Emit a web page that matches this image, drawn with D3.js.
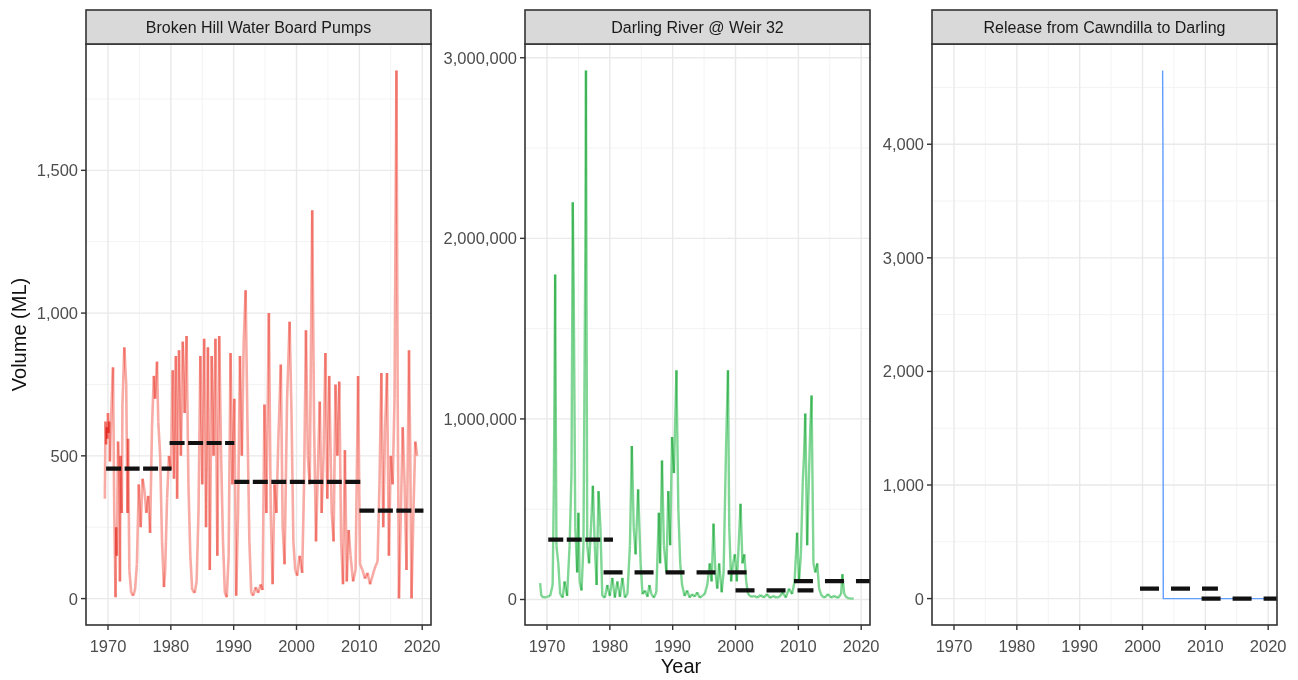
<!DOCTYPE html>
<html><head><meta charset="utf-8">
<script src="https://cdn.jsdelivr.net/npm/d3@7"></script>
<style>
body{margin:0;background:#fff}
svg{display:block}
text{font-family:"Liberation Sans",Arial,Helvetica,sans-serif}
</style>
</head><body>
<svg id="chart" width="1298" height="680"></svg>
<script>
// ---------------- data ----------------
const panelTitles = ["Broken Hill Water Board Pumps", "Darling River @ Weir 32", "Release from Cawndilla to Darling"];
const xTicks = [1970, 1980, 1990, 2000, 2010, 2020];
const xDomain = [1966.5, 2021.4];
const pumpsYTicks = [0, 500, 1000, 1500];
const weirYTicks = [0, 1000000, 2000000, 3000000];
const releaseYTicks = [0, 1000, 2000, 3000, 4000];

// [year, volume ML]
const pumpsSeries = [
 [1969.5,350],[1969.6,620],[1969.7,540],[1969.8,600],[1969.9,560],[1970.0,650],[1970.1,580],[1970.2,620],[1970.3,480],[1970.4,560],[1970.6,700],[1970.8,810],
 [1971.0,300],[1971.2,5],[1971.3,250],[1971.4,150],[1971.6,550],[1971.8,420],[1971.9,60],[1972.0,500],[1972.2,300],[1972.3,680],[1972.6,880],
 [1972.9,750],[1973.1,300],[1973.2,560],[1973.4,100],[1973.7,20],[1974.0,10],[1974.3,30],[1974.6,120],[1974.9,400],
 [1975.2,250],[1975.5,420],[1975.8,380],[1976.1,300],[1976.4,360],[1976.7,230],[1977.0,600],[1977.3,780],
 [1977.5,700],[1977.8,830],[1978.0,620],[1978.3,500],[1978.6,200],[1978.9,40],[1979.1,100],[1979.4,350],
 [1979.7,500],[1980.0,450],[1980.3,800],[1980.5,420],[1980.8,850],[1981.0,350],[1981.3,870],[1981.6,500],
 [1981.9,900],[1982.2,650],[1982.5,920],[1982.8,400],[1983.1,150],[1983.4,30],[1983.8,20],[1984.1,60],
 [1984.4,300],[1984.7,850],[1985.0,400],[1985.3,910],[1985.6,250],[1985.9,880],[1986.2,100],[1986.5,850],
 [1986.8,500],[1987.1,910],[1987.4,150],[1987.7,920],[1988.0,500],[1988.3,200],[1988.6,20],[1988.9,5],
 [1989.2,150],[1989.5,860],[1989.8,400],[1990.1,700],[1990.4,10],[1990.7,300],[1991.0,850],[1991.3,500],
 [1991.6,900],[1991.9,1080],[1992.2,600],[1992.5,200],[1992.8,20],[1993.1,10],[1993.5,40],[1993.9,20],
 [1994.3,50],[1994.6,30],[1994.9,680],[1995.2,300],[1995.6,1000],[1995.9,300],[1996.2,50],[1996.5,400],
 [1996.8,300],[1997.1,550],[1997.5,820],[1997.8,250],[1998.1,120],[1998.5,700],[1998.9,970],[1999.2,650],
 [1999.5,200],[1999.8,100],[2000.1,80],[2000.5,150],[2000.9,90],[2001.2,400],[2001.5,940],[2001.8,500],
 [2002.1,400],[2002.5,1360],[2002.8,600],[2003.1,200],[2003.4,450],[2003.7,690],[2004.0,300],[2004.3,500],
 [2004.6,860],[2004.9,350],[2005.2,780],[2005.6,300],[2005.9,200],[2006.2,750],[2006.5,500],[2006.8,760],
 [2007.1,200],[2007.4,50],[2007.7,520],[2008.0,60],[2008.3,240],[2008.6,150],[2009.0,60],[2009.4,100],
 [2009.8,780],[2010.1,120],[2010.5,100],[2010.9,70],[2011.3,90],[2011.7,50],[2012.1,80],[2012.5,110],
 [2012.9,130],[2013.2,400],[2013.5,790],[2013.8,250],[2014.1,600],[2014.4,790],[2014.7,150],[2015.0,500],
 [2015.3,400],[2015.6,700],[2015.9,1850],[2016.1,700],[2016.3,0],[2016.6,300],[2016.9,600],[2017.2,400],
 [2017.5,100],[2017.9,870],[2018.1,500],[2018.3,0],[2018.6,300],[2018.9,550],[2019.2,500]
];
const weirSeries = [
 [1968.9,90000],[1969.1,20000],[1969.5,10000],[1970.0,15000],[1970.5,20000],[1970.9,80000],[1971.1,650000],
 [1971.3,1800000],[1971.5,300000],[1971.8,200000],[1972.1,30000],[1972.5,10000],[1972.8,100000],[1973.2,20000],
 [1973.6,300000],[1973.9,700000],[1974.1,2200000],[1974.25,1720000],[1974.5,400000],[1974.8,150000],
 [1975.0,480000],[1975.2,100000],[1975.5,50000],[1975.8,300000],[1976.1,1940000],[1976.2,2930000],
 [1976.4,300000],[1976.7,200000],[1977.0,400000],[1977.3,630000],[1977.6,300000],[1977.9,80000],
 [1978.2,600000],[1978.5,400000],[1978.8,20000],[1979.2,10000],[1979.6,80000],[1980.0,20000],
 [1980.4,120000],[1980.8,10000],[1981.2,100000],[1981.6,15000],[1982.0,120000],[1982.4,10000],
 [1982.8,30000],[1983.2,300000],[1983.5,850000],[1983.8,400000],[1984.1,250000],[1984.5,610000],
 [1984.9,200000],[1985.2,30000],[1985.6,50000],[1986.0,15000],[1986.3,80000],[1986.6,30000],
 [1987.0,10000],[1987.4,40000],[1987.8,480000],[1988.0,200000],[1988.3,770000],[1988.6,300000],
 [1989.0,150000],[1989.3,600000],[1989.6,300000],[1989.9,900000],[1990.2,700000],[1990.6,1270000],
 [1990.9,500000],[1991.2,200000],[1991.5,80000],[1991.9,20000],[1992.3,50000],[1992.7,10000],
 [1993.1,30000],[1993.5,15000],[1993.9,40000],[1994.3,10000],[1994.7,20000],[1995.1,30000],
 [1995.5,80000],[1995.9,200000],[1996.2,100000],[1996.5,420000],[1996.8,150000],[1997.1,60000],
 [1997.4,200000],[1997.8,40000],[1998.1,150000],[1998.5,850000],[1998.8,1270000],[1999.0,400000],
 [1999.3,100000],[1999.6,200000],[1999.9,250000],[2000.2,100000],[2000.5,300000],[2000.8,530000],
 [2001.1,200000],[2001.4,250000],[2001.7,100000],[2002.0,30000],[2002.5,15000],[2003.0,20000],
 [2003.5,10000],[2004.0,25000],[2004.5,10000],[2005.0,30000],[2005.5,8000],[2006.0,20000],
 [2006.5,10000],[2007.0,15000],[2007.5,40000],[2008.0,10000],[2008.5,60000],[2009.0,30000],
 [2009.4,100000],[2009.8,370000],[2010.1,100000],[2010.4,250000],[2010.7,650000],[2010.9,800000],
 [2011.1,1030000],[2011.4,300000],[2011.7,700000],[2011.9,950000],[2012.1,1130000],[2012.4,200000],
 [2012.7,150000],[2013.0,200000],[2013.3,60000],[2013.7,20000],[2014.2,10000],[2014.7,30000],
 [2015.2,10000],[2015.7,20000],[2016.3,8000],[2016.8,30000],[2017.0,140000],[2017.3,30000],
 [2017.7,10000],[2018.2,5000],[2018.8,5000]
];
const releaseSeries = [[2003.2,4650],[2003.25,3950],[2003.3,0],[2021.3,0]];

// period means: [from year, to year, mean ML]
const pumpsMeans = [[1969.7,1980.1,455],[1979.8,1990.1,545],[1990.1,2010.5,409],[2010.0,2020.2,308]];
const weirMeans = [[1970.2,1980.5,332000],[1979.0,2001.8,150000],[2000.0,2012.4,50000],[2009.3,2021.6,102000]];
const releaseMeans = [[1999.6,2012.0,88],[2009.4,2021.6,0]];

// ---------------- layout / style ----------------
const W = 1298, H = 680;
const panelLeft = [86, 525, 932], panelW = 345;
const stripTop = 10, plotTop = 44, plotBottom = 625;
const dashA = "15,3.5", dashB = "19,12";
const panels = [
  {title: panelTitles[0], series: pumpsSeries, means: pumpsMeans, yTicks: pumpsYTicks, kind: "seg",
   color: "#F8ABA4", width: 2.6, dashes: [dashA, dashA, dashA, dashA]},
  {title: panelTitles[1], series: weirSeries, means: weirMeans, yTicks: weirYTicks, kind: "seg",
   color: "#80D795", width: 2.4, dashes: [dashA, dashB, dashB, dashB]},
  {title: panelTitles[2], series: releaseSeries, means: releaseMeans, yTicks: releaseYTicks, kind: "line",
   color: "#619CFF", width: 1.4, dashes: [dashB, dashB]}
];

const svg = d3.select("#chart");
svg.append("rect").attr("width", W).attr("height", H).attr("fill", "#fff");
const fmt = d3.format(",");

panels.forEach((p, i) => {
  const L = panelLeft[i], R = L + panelW;
  const x = d3.scaleLinear().domain(xDomain).range([L, R]);
  const vals = p.series.map(d => d[1]);
  const ymin = d3.min(vals), ymax = d3.max(vals), r = ymax - ymin;
  const y = d3.scaleLinear().domain([ymin - 0.05 * r, ymax + 0.05 * r]).range([plotBottom, plotTop]);

  const g = svg.append("g");
  const clipId = "clip" + i;
  svg.append("clipPath").attr("id", clipId).append("rect")
     .attr("x", L).attr("y", plotTop).attr("width", panelW).attr("height", plotBottom - plotTop);

  // grid: minor then major
  const yStep = p.yTicks[1] - p.yTicks[0];
  const yMinor = d3.range(p.yTicks[0] - yStep / 2, y.domain()[1], yStep).filter(v => v > y.domain()[0]);
  const xMinor = d3.range(1965, 2025, 10).filter(v => v > xDomain[0] && v < xDomain[1]);
  const grid = g.append("g");
  grid.selectAll(".ym").data(yMinor).join("line")
    .attr("x1", L).attr("x2", R).attr("y1", d => y(d)).attr("y2", d => y(d))
    .attr("stroke", "#f3f3f3").attr("stroke-width", 1);
  grid.selectAll(".xm").data(xMinor).join("line")
    .attr("x1", d => x(d)).attr("x2", d => x(d)).attr("y1", plotTop).attr("y2", plotBottom)
    .attr("stroke", "#f3f3f3").attr("stroke-width", 1);
  grid.selectAll(".yM").data(p.yTicks).join("line")
    .attr("x1", L).attr("x2", R).attr("y1", d => y(d)).attr("y2", d => y(d))
    .attr("stroke", "#e9e9e9").attr("stroke-width", 1.4);
  grid.selectAll(".xM").data(xTicks).join("line")
    .attr("x1", d => x(d)).attr("x2", d => x(d)).attr("y1", plotTop).attr("y2", plotBottom)
    .attr("stroke", "#e9e9e9").attr("stroke-width", 1.4);

  // data
  const dg = g.append("g").attr("clip-path", `url(#${clipId})`);
  if (p.kind === "seg") {
    dg.selectAll("line.s").data(d3.pairs(p.series)).join("line").attr("class", "s")
      .attr("x1", d => x(d[0][0])).attr("y1", d => y(d[0][1]))
      .attr("x2", d => x(d[1][0])).attr("y2", d => y(d[1][1]))
      .attr("stroke", p.color).attr("stroke-width", p.width)
      .style("mix-blend-mode", "multiply");
  } else {
    dg.append("path").datum(p.series)
      .attr("d", d3.line().x(d => x(d[0])).y(d => y(d[1])))
      .attr("fill", "none").attr("stroke", p.color).attr("stroke-width", p.width);
  }
  // means
  dg.selectAll("line.m").data(p.means).join("line").attr("class", "m")
    .attr("x1", d => x(d[0])).attr("x2", d => x(d[1]))
    .attr("y1", d => y(d[2])).attr("y2", d => y(d[2]))
    .attr("stroke", "#111").attr("stroke-width", 4.2)
    .attr("stroke-dasharray", (d, k) => p.dashes[k]);

  // panel border
  g.append("rect").attr("x", L).attr("y", plotTop).attr("width", panelW).attr("height", plotBottom - plotTop)
    .attr("fill", "none").attr("stroke", "#333").attr("stroke-width", 1.6);
  // strip
  g.append("rect").attr("x", L).attr("y", stripTop).attr("width", panelW).attr("height", plotTop - stripTop)
    .attr("fill", "#d9d9d9").attr("stroke", "#333").attr("stroke-width", 1.6);
  g.append("text").attr("x", (L + R) / 2).attr("y", 33).attr("text-anchor", "middle")
    .attr("font-size", 16).attr("fill", "#1a1a1a").text(p.title);

  // y axis
  const ya = g.append("g");
  ya.selectAll("line").data(p.yTicks).join("line")
    .attr("x1", L - 5).attr("x2", L).attr("y1", d => y(d)).attr("y2", d => y(d))
    .attr("stroke", "#333").attr("stroke-width", 1.4);
  ya.selectAll("text").data(p.yTicks).join("text")
    .attr("x", L - 8).attr("y", d => y(d)).attr("dy", "0.36em").attr("text-anchor", "end")
    .attr("font-size", 16.5).attr("fill", "#4d4d4d").text(d => fmt(d));
  // x axis
  const xa = g.append("g");
  xa.selectAll("line").data(xTicks).join("line")
    .attr("x1", d => x(d)).attr("x2", d => x(d)).attr("y1", plotBottom).attr("y2", plotBottom + 5)
    .attr("stroke", "#333").attr("stroke-width", 1.4);
  xa.selectAll("text").data(xTicks).join("text")
    .attr("x", d => x(d)).attr("y", 652).attr("text-anchor", "middle")
    .attr("font-size", 16.5).attr("fill", "#4d4d4d").text(d => d);
});

// axis titles
svg.append("text").attr("x", 681).attr("y", 673).attr("text-anchor", "middle")
  .attr("font-size", 20).attr("fill", "#111").text("Year");
svg.append("text").attr("transform", `translate(26,${(plotTop + plotBottom) / 2}) rotate(-90)`)
  .attr("text-anchor", "middle").attr("font-size", 20).attr("fill", "#111").text("Volume (ML)");
</script>
</body></html>
